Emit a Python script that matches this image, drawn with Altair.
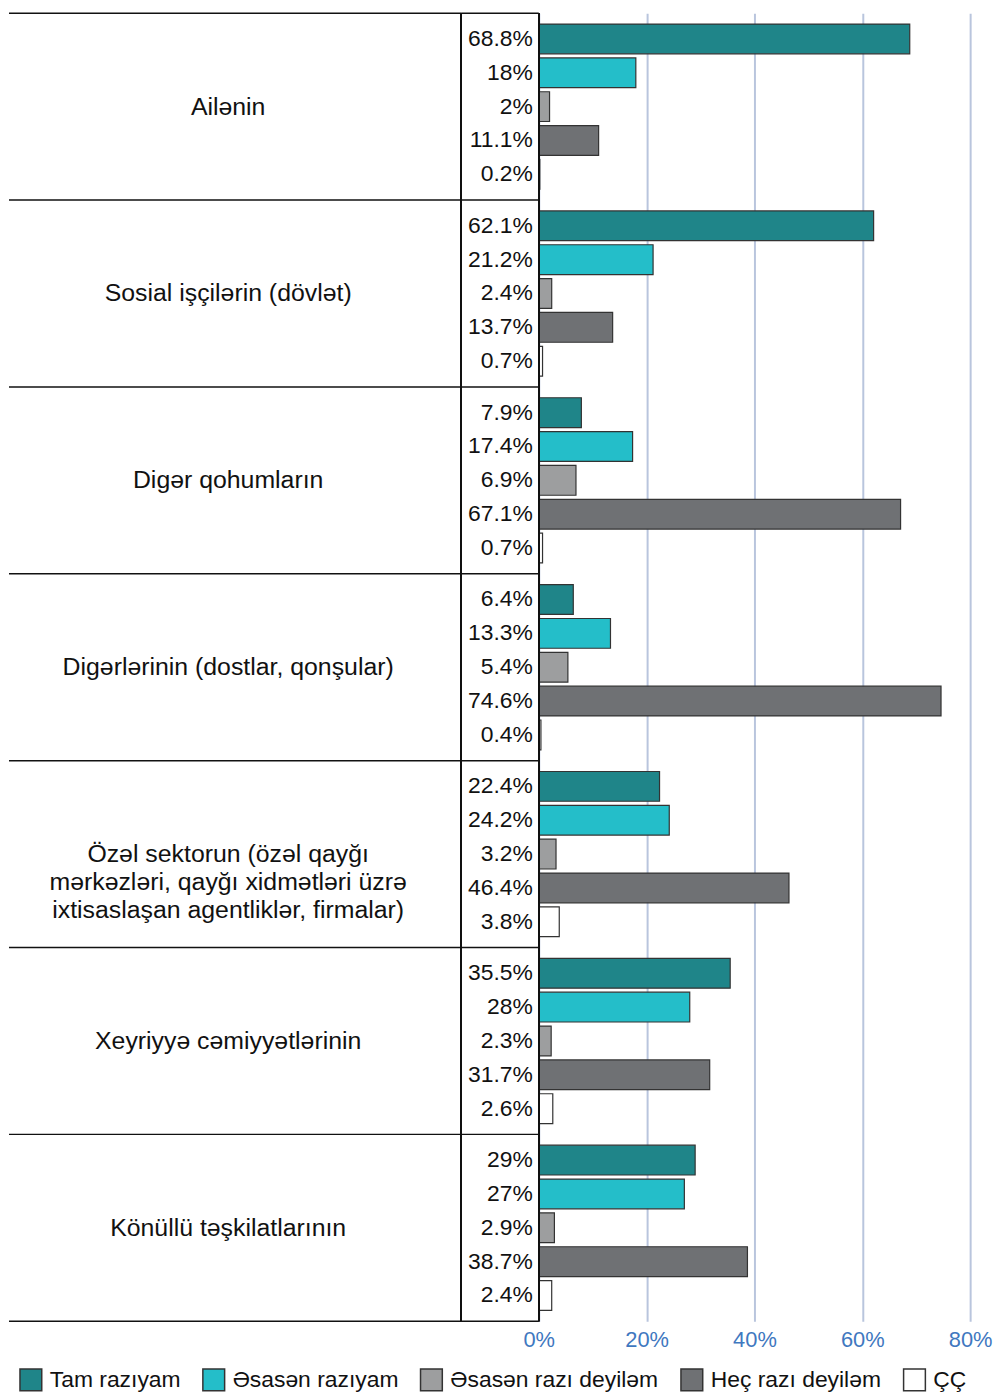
import altair as alt
import pandas as pd

categories = [
    "Ailənin",
    "Sosial işçilərin (dövlət)",
    "Digər qohumların",
    "Digərlərinin (dostlar, qonşular)",
    "Özəl sektorun (özəl qayğı\nmərkəzləri, qayğı xidmətləri üzrə\nixtisaslaşan agentliklər, firmalar)",
    "Xeyriyyə cəmiyyətlərinin",
    "Könüllü təşkilatlarının",
]
responses = ["Tam razıyam", "Əsasən razıyam", "Əsasən razı deyiləm", "Heç razı deyiləm", "ÇÇ"]
tam_raziyam = [68.8, 62.1, 7.9, 6.4, 22.4, 35.5, 29]
esasen_raziyam = [18, 21.2, 17.4, 13.3, 24.2, 28, 27]
esasen_razi_deyilem = [2, 2.4, 6.9, 5.4, 3.2, 2.3, 2.9]
hec_razi_deyilem = [11.1, 13.7, 67.1, 74.6, 46.4, 31.7, 38.7]
cc = [0.2, 0.7, 0.7, 0.4, 3.8, 2.6, 2.4]
colors = ["#1f8589", "#24bec9", "#9d9e9f", "#6f7174", "#ffffff"]
x_ticks = [0, 20, 40, 60, 80]

series = [tam_raziyam, esasen_raziyam, esasen_razi_deyilem, hec_razi_deyilem, cc]

FONT = "Liberation Sans"
GROUP = 5.52
OFFSET = 0.76
HALF = 0.44
H = 1316
WA, WB, WC = 455, 78, 434

rows = []
for g, cat in enumerate(categories):
    for i, (resp, vals) in enumerate(zip(responses, series)):
        v = vals[g]
        pos = g * GROUP + OFFSET + i
        rows.append(dict(category=cat, response=resp, value=v, label=f"{v:g}%",
                         pos=pos, top=pos - HALF, bottom=pos + HALF, zero=0))
df = pd.DataFrame(rows)
cat_df = pd.DataFrame({"category": categories,
                       "mid": [(g + 0.5) * GROUP for g in range(len(categories))]})
bound_df = pd.DataFrame({"b": [g * GROUP for g in range(len(categories) + 1)]})

yscale = alt.Scale(domain=[0, len(categories) * GROUP], reverse=True, nice=False, zero=False)

rule_style = dict(color="#111111", strokeWidth=1.5)

# Panel A: category labels
rulesA = alt.Chart(bound_df).mark_rule(**rule_style).encode(
    y=alt.Y("b:Q", scale=yscale, axis=None))
textA = alt.Chart(cat_df).mark_text(
    font=FONT, fontSize=25, lineBreak="\n", lineHeight=28,
    align="center", baseline="middle", color="#111111"
).encode(
    y=alt.Y("mid:Q", scale=yscale, axis=None),
    x=alt.value(WA / 2 - 7),
    text="category:N")
panelA = alt.layer(rulesA, textA).properties(width=WA, height=H)

# Panel B: value labels
rulesB = alt.Chart(bound_df).mark_rule(**rule_style).encode(
    y=alt.Y("b:Q", scale=yscale, axis=None))
sideB = alt.Chart(bound_df).mark_rule(**rule_style).encode(
    x=alt.value(0), y=alt.value(0), y2=alt.value(H))
textB = alt.Chart(df).mark_text(
    font=FONT, fontSize=23, align="right", baseline="middle", color="#111111"
).encode(
    y=alt.Y("pos:Q", scale=yscale, axis=None),
    x=alt.value(WB - 6),
    text="label:N")
panelB = alt.layer(rulesB, sideB, textB).properties(width=WB, height=H)

# Panel C: bars
xscale = alt.Scale(domain=[0, 80], nice=False)
bars = alt.Chart(df).mark_rect(stroke="#333333", strokeWidth=1.2).encode(
    x=alt.X("value:Q", scale=xscale,
            axis=alt.Axis(values=x_ticks, labelExpr="datum.value + '%'", grid=True,
                          gridColor="#b9c5dd", gridWidth=2, domain=False, ticks=False,
                          labelColor="#3f78c0", labelFontSize=22, labelFont=FONT,
                          labelFlush=False, labelPadding=8, title=None)),
    x2="zero:Q",
    y=alt.Y("top:Q", scale=yscale, axis=None),
    y2="bottom:Q",
    color=alt.Color("response:N", scale=alt.Scale(domain=responses, range=colors),
                    legend=alt.Legend(title=None, orient="none", direction="horizontal",
                                      legendX=10, legendY=H + 47,
                                      symbolType="square", symbolSize=480,
                                      symbolStrokeColor="#333333", symbolStrokeWidth=1.5,
                                      labelFontSize=23, labelFont=FONT, labelColor="#111111",
                                      labelLimit=400, labelOffset=7, columnPadding=19)))
zero_line = alt.Chart(bound_df).mark_rule(**rule_style).encode(
    x=alt.datum(0, scale=xscale))
panelC = alt.layer(bars, zero_line).properties(width=WC, height=H)

chart = alt.hconcat(panelA, panelB, panelC, spacing=0, bounds="flush").properties(
    padding=0
).configure_view(stroke=None)

chart.save("out.html", embed_options={"renderer": "svg", "actions": False})
